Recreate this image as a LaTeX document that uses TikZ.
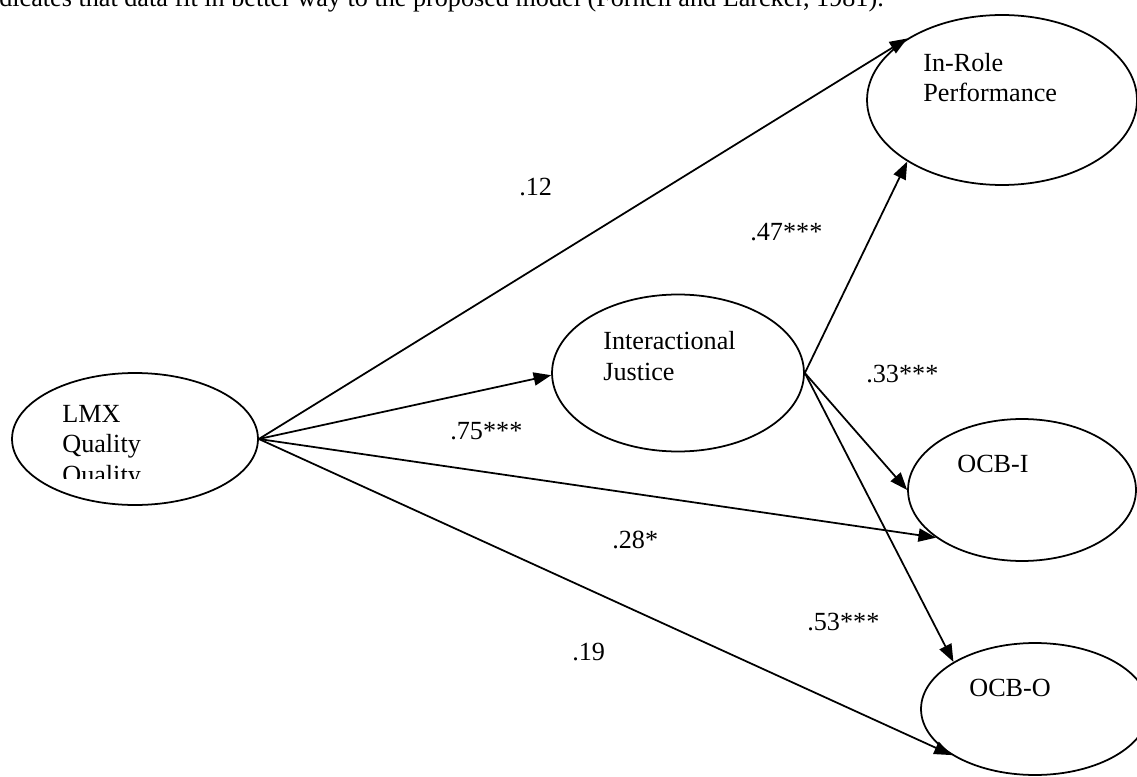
\documentclass[tikz,border=0pt]{standalone}
\usepackage{fontspec}
\setmainfont{Liberation Serif}
\usetikzlibrary{arrows.meta,shapes.geometric}

\begin{document}
\begin{tikzpicture}[
    x=0.02cm, y=-0.02cm,
    latent/.style={draw, ellipse, line width=1pt, inner sep=0pt},
    lbl/.style={anchor=base west, inner sep=0pt, align=left,
                font=\fontsize{14.9}{17.1}\selectfont},
    coef/.style={anchor=base west, inner sep=0pt,
                 font=\fontsize{14.9}{17.1}\selectfont},
    arr/.style={-{Triangle[length=10pt, width=7.5pt]}, line width=1pt}
  ]
    \useasboundingbox (0,0) rectangle (1137,777);
    \clip (0,0) rectangle (1137,777);

    % Text above the figure (cut off)
    \node[coef] (caption) at (-1,7)
      {dicates that data fit in better way to the proposed model (Fornell and Larcker, 1981).};

    % Latent variables
    \node[latent, minimum width=4.92cm, minimum height=2.64cm] (lmx)    at (135,439)  {};
    \node[latent, minimum width=5.04cm, minimum height=3.14cm] (ij)     at (678,373)  {};
    \node[latent, minimum width=5.40cm, minimum height=3.40cm] (inrole) at (1002,100) {};
    \node[latent, minimum width=4.56cm, minimum height=2.84cm] (ocbi)   at (1022,490) {};
    \node[latent, minimum width=4.56cm, minimum height=2.64cm] (ocbo)   at (1035,709) {};

    % Names (base = last line)
    \begin{scope}
      \clip (40,380) rectangle (240,478);
      \node[lbl] (lmxtext) at (62,483) {LMX\\Quality\\Quality};
    \end{scope}
    \node[lbl] (ijtext)     at (603,380) {Interactional\\Justice};
    \node[lbl] (inroletext) at (923,102) {In-Role\\Performance};
    \node[lbl] (ocbitext)   at (957,472) {OCB-I};
    \node[lbl] (ocbotext)   at (969,696) {OCB-O};

    % Paths
    \draw[arr] (lmx.east) -- (inrole.147.7);
    \draw[arr] (lmx.east) -- (ij.181);
    \draw[arr] (lmx.east) -- (ocbi.209.8);
    \draw[arr] (lmx.east) -- (ocbo.209.5);
    \draw[arr] (ij.east)  -- (inrole.213.8);
    \draw[arr] (ij.east)  -- (ocbi.west);
    \draw[arr] (ij.east)  -- (ocbo.150.2);

    % Coefficients
    \node[coef] (c12) at (519,195) {.12};
    \node[coef] (c47) at (750,240) {.47***};
    \node[coef] (c33) at (866,382) {.33***};
    \node[coef] (c75) at (450,439) {.75***};
    \node[coef] (c28) at (612,548) {.28*};
    \node[coef] (c53) at (807,630) {.53***};
    \node[coef] (c19) at (572,660) {.19};
  \end{tikzpicture}
\end{document}
